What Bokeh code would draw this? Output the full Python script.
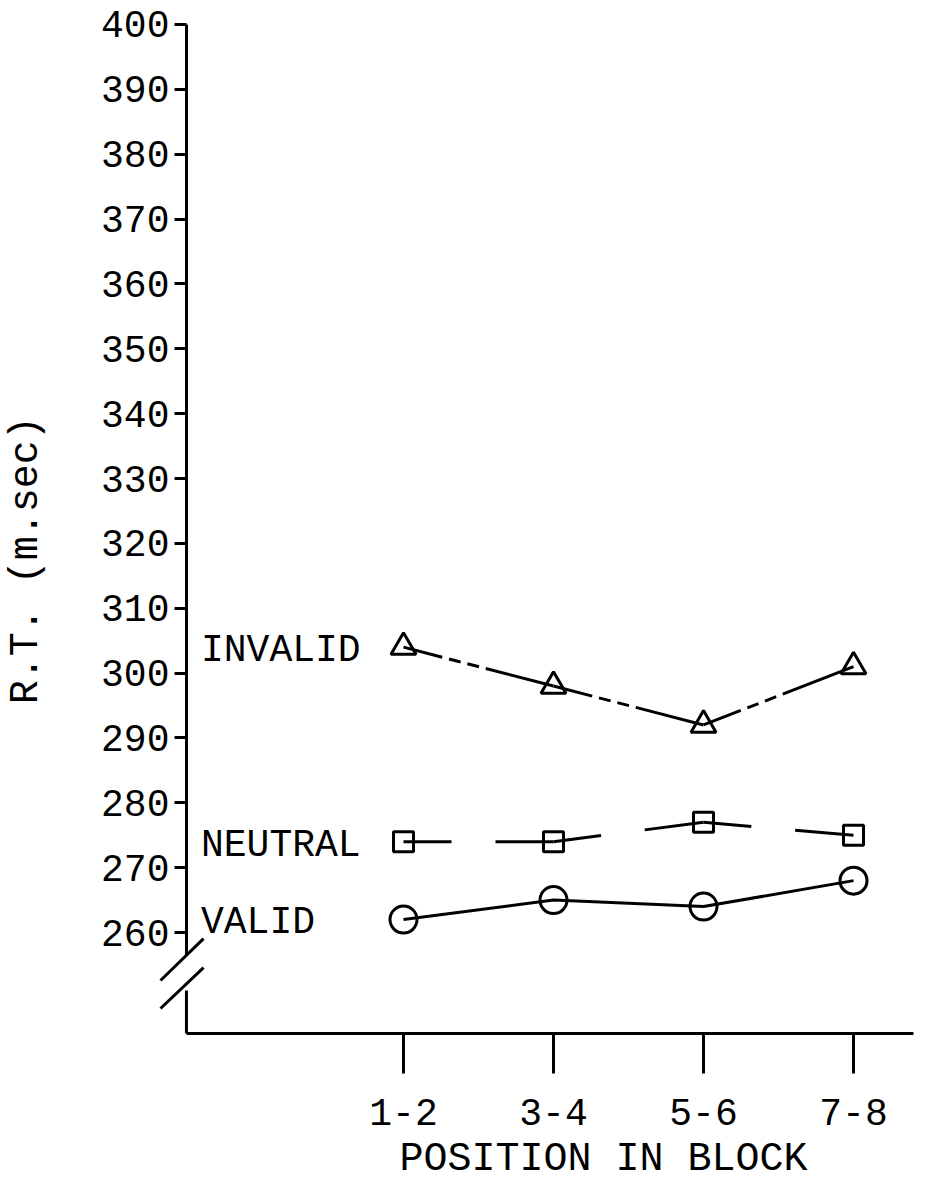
import math
from bokeh.plotting import figure
from bokeh.models import FixedTicker
from bokeh.core.properties import value
from bokeh.embed import file_html
from bokeh.resources import INLINE

# ---- data ----
positions = [1, 2, 3, 4]
position_labels = ["1-2", "3-4", "5-6", "7-8"]
invalid_rt = [304, 298, 292, 301]
neutral_rt = [274, 274, 277, 275]
valid_rt = [262, 265, 264, 268]
series_names = ["INVALID", "NEUTRAL", "VALID"]
y_ticks = list(range(260, 401, 10))

# ---- style / layout constants ----
FONT = "Liberation Mono"
FS = "38px"
FS_TITLE = "40px"
LW = 3
XR = (-1.6867, 4.4133)      # full-figure frame
YR = (221.15, 403.70)
Y_AXIS_AT = -0.447           # x where the y axis stands
X_AXIS_AT = 244.44           # y where the x axis lies
X_AXIS_END = 4.40
BREAK_TOP = 256.45
BREAK_BOT = 251.06

p = figure(width=915, height=1184, x_range=XR, y_range=YR,
           min_border_left=0, min_border_right=0, min_border_top=0,
           min_border_bottom=0, output_backend="svg", toolbar_location=None)
p.grid.visible = False
p.outline_line_color = None
p.background_fill_color = "white"
p.border_fill_color = "white"

ya = p.yaxis[0]
ya.fixed_location = Y_AXIS_AT
ya.ticker = FixedTicker(ticks=y_ticks)
ya.bounds = (BREAK_TOP, 400)
ya.axis_line_width = LW
ya.axis_line_color = "black"
ya.major_tick_line_width = LW
ya.major_tick_out = 12
ya.major_tick_in = 0
ya.minor_tick_out = 0
ya.minor_tick_in = 0
ya.major_label_text_font = FONT
ya.major_label_text_font_size = FS
ya.major_label_text_color = "black"
ya.major_label_standoff = 5

xa = p.xaxis[0]
xa.fixed_location = X_AXIS_AT
xa.ticker = FixedTicker(ticks=positions)
xa.bounds = (Y_AXIS_AT, X_AXIS_END)
xa.major_label_overrides = {pos: lab for pos, lab in zip(positions, position_labels)}
xa.axis_line_width = LW
xa.axis_line_color = "black"
xa.major_tick_line_width = LW
xa.major_tick_out = 40
xa.major_tick_in = 0
xa.minor_tick_out = 0
xa.minor_tick_in = 0
xa.major_label_text_font = FONT
xa.major_label_text_font_size = FS
xa.major_label_text_color = "black"
xa.major_label_standoff = 26

# axis titles
p.text(x=[-1.513], y=[317.4], text=["R.T. (m.sec)"], angle=math.pi / 2,
       text_font=value(FONT), text_font_size=FS_TITLE, text_align="center",
       text_baseline="middle", text_color="black")
p.text(x=[2.333], y=[225.0], text=["POSITION IN BLOCK"],
       text_font=value(FONT), text_font_size=FS_TITLE, text_align="center",
       text_baseline="middle", text_color="black")

# lower piece of the broken y axis and the break marks
p.segment(x0=[Y_AXIS_AT, -0.62, -0.62], y0=[BREAK_BOT, 252.60, 248.28],
          x1=[Y_AXIS_AT, -0.333, -0.333], y1=[X_AXIS_AT, 259.07, 254.60],
          line_width=LW, line_color="black")

# series
p.line(positions, valid_rt, line_width=LW, line_color="black")
p.segment(x0=positions[:-1], y0=neutral_rt[:-1], x1=positions[1:], y1=neutral_rt[1:],
          line_width=LW, line_color="black", line_dash="48 44 200")
p.segment(x0=positions[:-1], y0=invalid_rt[:-1], x1=positions[1:], y1=invalid_rt[1:],
          line_width=LW, line_color="black", line_dash="40 7 12 7 12 7 200")

p.scatter(positions, invalid_rt, marker="triangle", size=25, fill_color=None,
          line_color="black", line_width=LW)
p.scatter(positions, neutral_rt, marker="square", size=20, fill_color=None,
          line_color="black", line_width=LW)
p.scatter(positions, valid_rt, marker="circle", size=27, fill_color=None,
          line_color="black", line_width=LW)

label_x = positions[0] - 1.35
p.text(x=[label_x] * 3, y=[invalid_rt[0] - 0.5, neutral_rt[0] - 0.6, valid_rt[0] - 0.4],
       text=series_names, text_font=value(FONT), text_font_size=FS,
       text_baseline="middle", text_align="left", text_color="black")

open("out.html", "w").write(file_html(p, INLINE))
